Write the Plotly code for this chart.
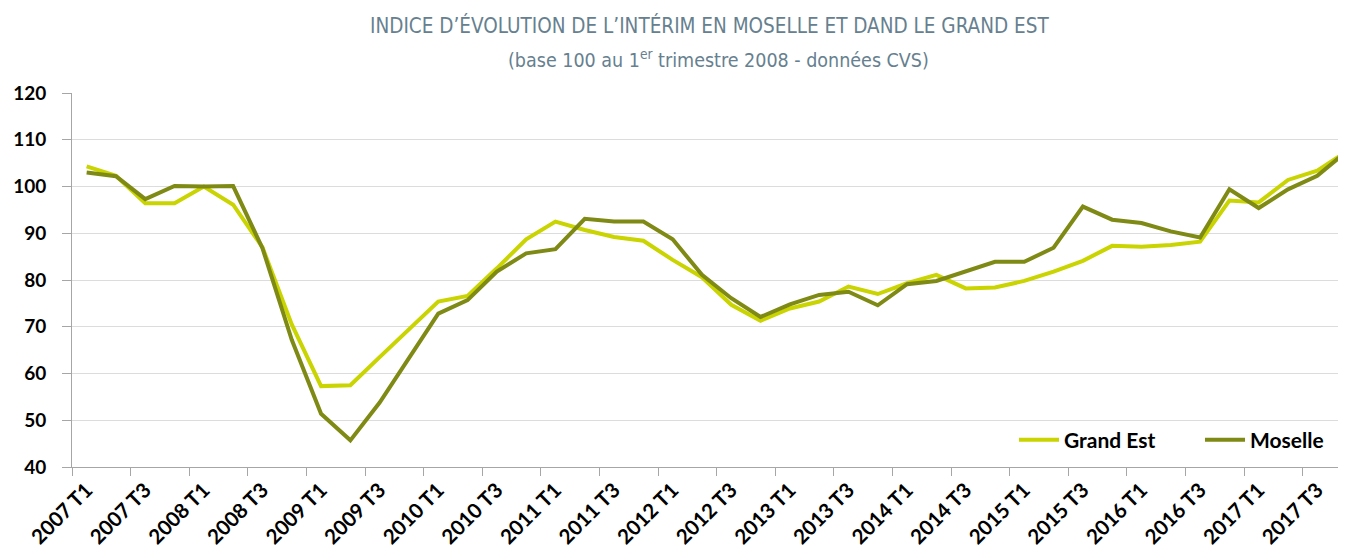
import plotly.graph_objects as go

years = list(range(2007, 2018))
quarters = [f"{y} T{q}" for y in years for q in range(1, 5)]

grand_est = [104.3, 102.3, 96.4, 96.4, 100.0, 96.1, 87.0, 70.5, 57.3, 57.5,
             63.5, 69.5, 75.4, 76.6, 82.5, 88.7, 92.5, 90.7, 89.2, 88.4,
             84.3, 80.6, 74.7, 71.3, 73.9, 75.4, 78.6, 77.0, 79.3, 81.1,
             78.2, 78.4, 79.8, 81.8, 84.1, 87.3, 87.1, 87.5, 88.2, 97.0,
             96.6, 101.4, 103.4, 107.5]
moselle = [103.0, 102.2, 97.3, 100.1, 100.0, 100.1, 86.8, 67.2, 51.4, 45.7,
           53.8, 63.4, 72.8, 75.7, 81.8, 85.7, 86.6, 93.1, 92.5, 92.5,
           88.7, 81.1, 76.1, 72.1, 74.8, 76.8, 77.5, 74.6, 79.1, 79.8,
           81.9, 83.9, 83.9, 86.9, 95.7, 92.9, 92.2, 90.4, 89.1, 99.4,
           95.4, 99.4, 102.3, 107.5]

y_ticks = [40, 50, 60, 70, 80, 90, 100, 110, 120]
label_idx = list(range(0, len(quarters), 2))
label_text = [quarters[i] for i in label_idx]

GE_COLOR = "#c9d400"
MO_COLOR = "#7e8a14"
TITLE_COLOR = "#66808f"
COND = "Liberation Sans Narrow, DejaVu Sans Condensed, Liberation Sans, sans-serif"
BOLD = "Lato, Open Sans, sans-serif"

# the page body adds an 8px offset; the figure is sized to fill the rest
OFF = 8
W, H = 1346 - OFF, 553 - OFF
L, R, T, B = 72 - OFF, 0, 93 - OFF, 86
PW, PH = W - L - R, H - T - B


def px_x(v):
    return (v - OFF - L) / PW


def px_y(v):
    return (H - B - (v - OFF)) / PH


x = list(range(len(quarters)))

fig = go.Figure()
fig.add_trace(go.Scatter(x=x, y=grand_est, mode="lines", name="Grand Est",
                         line=dict(color=GE_COLOR, width=4)))
fig.add_trace(go.Scatter(x=x, y=moselle, mode="lines", name="Moselle",
                         line=dict(color=MO_COLOR, width=4)))

fig.update_layout(
    width=W, height=H,
    margin=dict(l=L, r=R, t=T, b=B, autoexpand=False),
    paper_bgcolor="white", plot_bgcolor="white",
    showlegend=True,
    legend=dict(orientation="h", x=px_x(1014), xanchor="left",
                y=px_y(440), yanchor="middle",
                font=dict(family=BOLD, size=21, color="black", weight="bold"),
                bgcolor="rgba(0,0,0,0)", itemwidth=40, entrywidth=131,
                entrywidthmode="pixels", traceorder="normal"),
    annotations=[
        dict(text="INDICE D’ÉVOLUTION DE L’INTÉRIM EN MOSELLE ET DAND LE GRAND EST",
             x=px_x(710), y=px_y(26), xref="paper", yref="paper", showarrow=False,
             xanchor="center", yanchor="middle",
             font=dict(family=COND, size=20.5, color=TITLE_COLOR)),
        dict(text="(base 100 au 1<sup>er</sup> trimestre 2008 - données CVS)",
             x=px_x(718), y=px_y(59), xref="paper", yref="paper", showarrow=False,
             xanchor="center", yanchor="middle",
             font=dict(family=COND, size=19.5, color=TITLE_COLOR)),
    ],
)

fig.update_xaxes(
    range=[-0.5, 42.98], automargin=False,
    tickmode="array", tickvals=label_idx, ticktext=label_text,
    tickangle=-45, ticks="",
    tickfont=dict(family=BOLD, size=20.5, color="black", weight="bold"),
    ticklabelstandoff=2,
    showgrid=False, zeroline=False,
    showline=True, linecolor="#a6a6a6", linewidth=1,
    minor=dict(tick0=-0.5, dtick=2, ticks="outside", ticklen=8,
               tickcolor="#a6a6a6", tickwidth=1, showgrid=False),
)
fig.update_yaxes(
    range=[40, 120], automargin=False, tickmode="array", tickvals=y_ticks,
    ticks="outside", ticklen=9, tickcolor="#a6a6a6",
    tickfont=dict(family=BOLD, size=19, color="black", weight="bold"),
    ticklabelstandoff=12,
    showgrid=True, gridcolor="#dcdcdc", gridwidth=1,
    zeroline=False, showline=True, linecolor="#a6a6a6", linewidth=1,
)

fig.write_html("out.html")
